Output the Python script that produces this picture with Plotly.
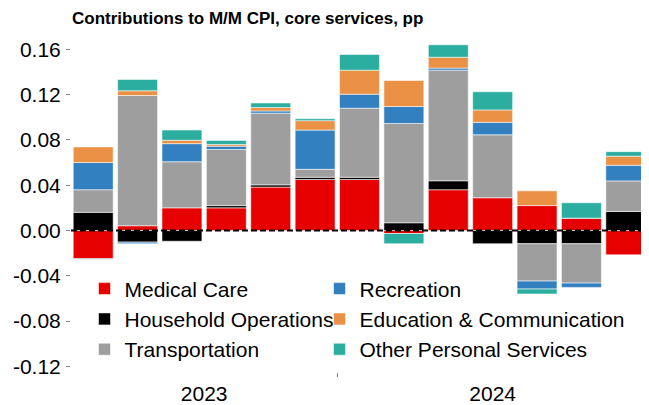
import plotly.graph_objects as go

months = ["Jul 2023", "Aug 2023", "Sep 2023", "Oct 2023", "Nov 2023", "Dec 2023",
          "Jan 2024", "Feb 2024", "Mar 2024", "Apr 2024", "May 2024", "Jun 2024", "Jul 2024"]

medical_care = [-0.025, 0.0042, 0.020, 0.020, 0.0383, 0.045, 0.045, -0.0027, 0.036, 0.0289, 0.022, 0.0109, -0.0215]
household_ops = [0.016, -0.0103, -0.0095, 0.002, 0.002, 0.002, 0.002, 0.0068, 0.0079, -0.0117, -0.0117, -0.0117, 0.0168]
transportation = [0.020, 0.115, 0.0407, 0.0495, 0.0633, 0.007, 0.061, 0.0877, 0.0977, 0.0556, -0.033, -0.0348, 0.027]
recreation = [0.024, -0.0014, 0.016, 0.003, 0.002, 0.0347, 0.0124, 0.015, 0.0018, 0.011, -0.007, -0.0038, 0.0138]
education_comm = [0.0138, 0.0042, 0.003, 0.0015, 0.003, 0.0083, 0.0212, 0.023, 0.0096, 0.011, 0.013, 0.0, 0.008]
other_services = [-0.0005, 0.010, 0.009, 0.0035, 0.004, 0.0017, 0.0138, -0.009, 0.011, 0.016, -0.0044, 0.0136, 0.004]

year_labels = ["2023", "2024"]
y_ticks = [-0.12, -0.08, -0.04, 0.0, 0.04, 0.08, 0.12, 0.16]
y_ticktext = ["-0.12", "-0.08", "-0.04", "0.00", "0.04", "0.08", "0.12", "0.16"]

# stacking order bottom->top; legend column for the 2-column key
series = [
    ("Medical Care", medical_care, "#E60000", "legend"),
    ("Household Operations", household_ops, "#000000", "legend"),
    ("Transportation", transportation, "#9E9E9E", "legend"),
    ("Recreation", recreation, "#3380C0", "legend2"),
    ("Education & Communication", education_comm, "#EB9146", "legend2"),
    ("Other Personal Services", other_services, "#2BAE9F", "legend2"),
]

x = list(range(len(months)))
fig = go.Figure()
for name, vals, col, leg in series:
    fig.add_trace(go.Bar(x=x, y=vals, name=name, marker_color=col,
                         marker_line=dict(color="rgba(255,255,255,0.55)", width=1),
                         legend=leg, customdata=months,
                         hovertemplate="%{customdata}<br>%{y:.3f}<extra>" + name + "</extra>"))

fig.add_shape(type="line", xref="paper", x0=0, x1=1, yref="y", y0=0, y1=0,
              line=dict(color="black", width=2, dash="6px,3px"), layer="above")

font = "Arial, Liberation Sans, sans-serif"
W, H = 641, 397  # page body has an 8px margin
leg_common = dict(orientation="v", yanchor="top", xanchor="left", y=0.31,
                  bgcolor="rgba(0,0,0,0)", font=dict(size=21, family=font),
                  traceorder="normal")
fig.update_layout(
    barmode="relative",
    bargap=0.1,
    width=W, height=H,
    margin=dict(l=63, r=1, t=30, b=33),
    plot_bgcolor="white", paper_bgcolor="white",
    font=dict(family=font, size=21, color="black"),
    title=dict(text="<b>Contributions to M/M CPI, core services, pp</b>",
               font=dict(size=17, family=font, color="black"),
               xref="container", x=64 / W, xanchor="left",
               yref="container", y=1 - 10 / H, yanchor="middle"),
    showlegend=True,
    legend=dict(x=0.0234, **leg_common),
    legend2=dict(x=0.4307, **leg_common),
    xaxis=dict(range=[-0.5, len(months) - 0.5], tickvals=[2.5, 9], ticktext=year_labels,
               ticks="", showgrid=False, zeroline=False, showline=False, ticklabelstandoff=7,
               minor=dict(tickvals=[5.5], ticks="outside", ticklen=4, tickcolor="#888", showgrid=False)),
    yaxis=dict(range=[-0.125, 0.17], tickvals=y_ticks, ticktext=y_ticktext,
               ticks="outside", ticklen=4, tickcolor="#888", showgrid=False, ticklabelstandoff=1,
               zeroline=False, showline=False),
)

fig.write_html("out.html")
